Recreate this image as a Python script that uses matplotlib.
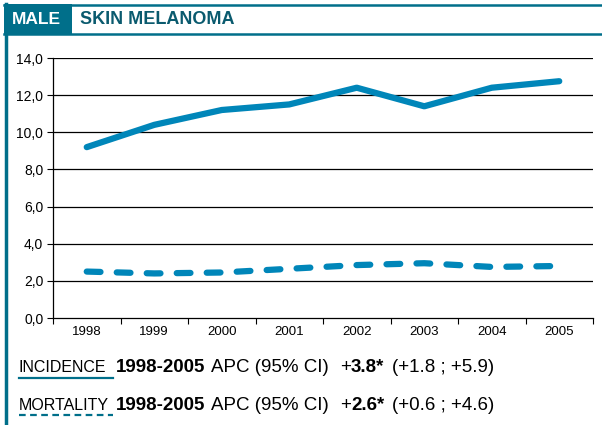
import matplotlib
matplotlib.use("Agg")
import matplotlib.pyplot as plt
from matplotlib.patches import Rectangle
from matplotlib.lines import Line2D

years = ["1998", "1999", "2000", "2001", "2002", "2003", "2004", "2005"]
incidence = [9.2, 10.4, 11.2, 11.5, 12.4, 11.4, 12.4, 12.75]
mortality = [2.5, 2.4, 2.45, 2.65, 2.85, 2.95, 2.75, 2.8]
yticks = [0, 2, 4, 6, 8, 10, 12, 14]

teal = "#006f8a"
blue = "#0086b9"

plt.rcParams['font.family'] = ['Liberation Sans', 'DejaVu Sans']

W, H = 602, 425
fig = plt.figure(figsize=(W / 100, H / 100), dpi=100)

def fx(px):
    return px / W

def fy(py):
    return 1 - py / H

ax = fig.add_axes([fx(53), fy(318), fx(593) - fx(53), fy(58) - fy(318)])
x = list(range(len(years)))
ax.plot(x, incidence, color=blue, lw=4.5, solid_capstyle='round')
ax.plot(x, mortality, color=blue, lw=4.5, linestyle=(0, (2.2, 2.6)),
        dash_capstyle='round')

ax.set_xlim(-0.5, len(years) - 0.5)
ax.set_ylim(0, 14)
ax.set_yticks(yticks)
ax.set_yticklabels([("%.1f" % v).replace(".", ",") for v in yticks], fontsize=10)
ax.set_xticks(x)
ax.set_xticklabels(years, fontsize=9.5)
ax.set_xticks([i - 0.5 for i in range(len(years) + 1)], minor=True)
ax.tick_params(axis='x', which='major', length=0, pad=6)
ax.tick_params(axis='x', which='minor', length=4, width=0.8, direction='out')
ax.tick_params(axis='y', length=4, width=0.8, direction='out', pad=3)
for v in yticks[1:]:
    ax.axhline(v, color='black', lw=0.9, zorder=0)
for s in ['top', 'right']:
    ax.spines[s].set_visible(False)
ax.spines['left'].set_linewidth(0.9)
ax.spines['bottom'].set_linewidth(0.9)

# header frame
fig.add_artist(Rectangle((fx(4), fy(34)), fx(72) - fx(4), fy(4) - fy(34),
                         transform=fig.transFigure, color=teal, lw=0))
fig.add_artist(Line2D([fx(4), 1], [fy(5), fy(5)], color=teal, lw=1.8))
fig.add_artist(Line2D([fx(4), 1], [fy(34), fy(34)], color=teal, lw=1.8))
fig.add_artist(Line2D([fx(5.5), fx(5.5)], [fy(4), 0], color=teal, lw=2.5))
fig.text(fx(12), fy(19), "MALE", color='white', fontsize=12.5,
         fontweight='bold', va='center', ha='left')
fig.text(fx(80), fy(19), "SKIN MELANOMA", color='#0a5a6e', fontsize=13,
         fontweight='bold', va='center', ha='left')

# legend rows
renderer = fig.canvas.get_renderer()
rows = [("INCIDENCE", "3.8*", "(+1.8 ; +5.9)", 368, '-'),
        ("MORTALITY", "2.6*", "(+0.6 ; +4.6)", 405, (0, (3, 2)))]
for name, apc, ci, ypx, ls in rows:
    fig.text(fx(19), fy(ypx), name, fontsize=11.5, va='center', ha='left')
    fig.add_artist(Line2D([fx(19), fx(113)], [fy(ypx + 10), fy(ypx + 10)],
                          color=teal, lw=1.6, linestyle=ls))
    pieces = [("1998-2005", 'bold', 0), ("APC (95% CI)", 'normal', 6),
              ("+", 'normal', 11), (apc, 'bold', 0), (ci, 'normal', 8)]
    xp = 116
    for txt, wt, gap in pieces:
        xp += gap
        t = fig.text(fx(xp), fy(ypx), txt, fontsize=13.5, fontweight=wt,
                     va='center', ha='left')
        xp += t.get_window_extent(renderer).width

fig.savefig("out.png", dpi=100)
